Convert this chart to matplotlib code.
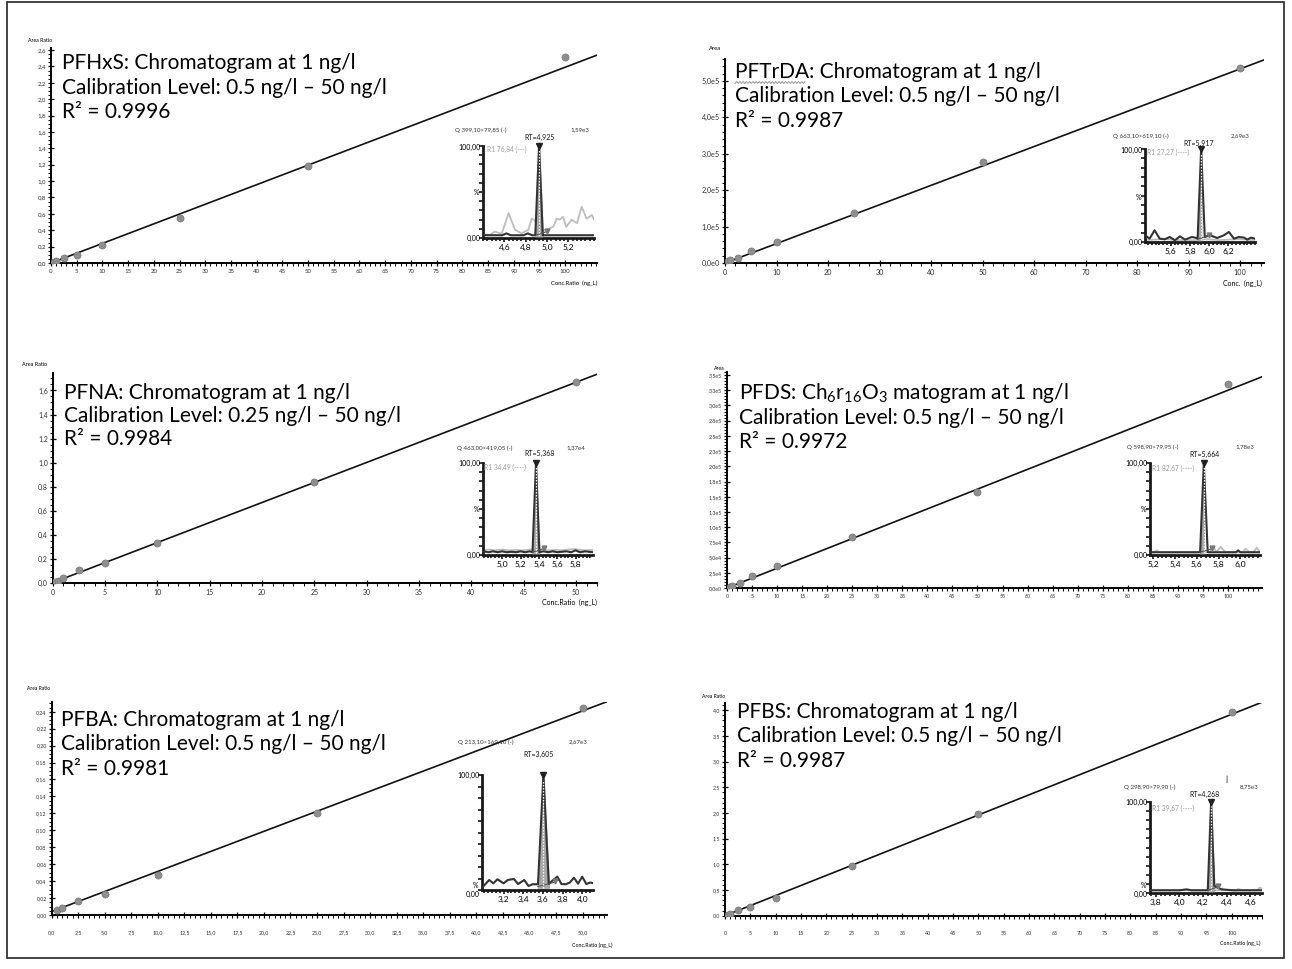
import numpy as np
import matplotlib.pyplot as plt
from matplotlib.ticker import MultipleLocator, FuncFormatter, FixedLocator
from matplotlib.lines import Line2D

plt.rcParams['font.family'] = ['Lato', 'DejaVu Sans']
plt.rcParams['mathtext.fontset'] = 'custom'
plt.rcParams['mathtext.rm'] = 'Lato'
plt.rcParams['mathtext.it'] = 'Lato:italic'
plt.rcParams['mathtext.bf'] = 'Lato:bold'

# ---------- calibration data ----------
conc_pfhxs = [0.5, 1, 2.5, 5, 10, 25, 50, 100]
resp_pfhxs = [0.012, 0.025, 0.06, 0.10, 0.22, 0.55, 1.19, 2.51]
fit_pfhxs = (0.0239, 0.0)          # slope, intercept

conc_pftrda = [0.5, 1, 2.5, 5, 10, 25, 50, 100]
resp_pftrda = [0.05e5, 0.09e5, 0.13e5, 0.33e5, 0.57e5, 1.36e5, 2.76e5, 5.36e5]
fit_pftrda = (5330.0, 0.0)

conc_pfna = [0.25, 0.5, 1, 2.5, 5, 10, 25, 50]
resp_pfna = [0.012, 0.02, 0.04, 0.105, 0.17, 0.33, 0.84, 1.67]
fit_pfna = (0.0333, 0.003)

conc_pfds = [0.5, 1, 2.5, 5, 10, 25, 50, 100]
resp_pfds = [0.01e5, 0.03e5, 0.09e5, 0.2e5, 0.36e5, 0.84e5, 1.57e5, 3.35e5]
fit_pfds = (3250.0, 0.0)

conc_pfba = [0.5, 1, 2.5, 5, 10, 25, 50]
resp_pfba = [0.006, 0.008, 0.016, 0.025, 0.047, 0.12, 0.244]
fit_pfba = (0.00474, 0.004)

conc_pfbs = [0.5, 1, 2.5, 5, 10, 25, 50, 100]
resp_pfbs = [0.02, 0.04, 0.11, 0.17, 0.35, 0.97, 1.98, 3.96]
fit_pfbs = (0.0392, 0.0)

titles = {
    'pfhxs': ['PFHxS: Chromatogram at 1 ng/l', 'Calibration Level: 0.5 ng/l – 50 ng/l', 'R² = 0.9996'],
    'pftrda': ['PFTrDA: Chromatogram at 1 ng/l', 'Calibration Level: 0.5 ng/l – 50 ng/l', 'R² = 0.9987'],
    'pfna': ['PFNA: Chromatogram at 1 ng/l', 'Calibration Level: 0.25 ng/l – 50 ng/l', 'R² = 0.9984'],
    'pfds': ['PFDS: Ch$_6$r$_{16}$O$_3$ matogram at 1 ng/l', 'Calibration Level: 0.5 ng/l – 50 ng/l', 'R² = 0.9972'],
    'pfba': ['PFBA: Chromatogram at 1 ng/l', 'Calibration Level: 0.5 ng/l – 50 ng/l', 'R² = 0.9981'],
    'pfbs': ['PFBS: Chromatogram at 1 ng/l', 'Calibration Level: 0.5 ng/l – 50 ng/l', 'R² = 0.9987'],
}

pftrda_ylabels = ['0,0e0', '1,0e5', '2,0e5', '3,0e5', '4,0e5', '5,0e5']
pfds_ylabels = ['0,0e0', '2,5e4', '5,0e4', '7,5e4', '1,0e5', '1,3e5', '1,5e5', '1,8e5',
                '2,0e5', '2,3e5', '2,5e5', '2,8e5', '3,0e5', '3,3e5', '3,5e5']

# ---------- chromatogram traces (quantifier black, qualifier grey) ----------
t_pfhxs = [4.40, 4.50, 4.58, 4.62, 4.66, 4.72, 4.78, 4.82, 4.86, 4.89, 4.925, 4.96, 5.0, 5.1, 5.2, 5.3, 5.44]
q_pfhxs = [3, 3, 3, 5, 3, 3, 3, 5, 3, 3, 100, 3, 3, 3, 3, 3, 3]
tr_pfhxs = [4.40, 4.466, 4.51, 4.575, 4.64, 4.70, 4.76, 4.825, 4.856, 4.90, 4.93, 4.997, 5.06,
            5.09, 5.12, 5.15, 5.18, 5.23, 5.28, 5.325, 5.37, 5.42, 5.44]
r_pfhxs = [4, 3.6, 7, 4.6, 27, 9, 5, 9, 21, 18, 7, 9, 12.5, 21, 20, 23, 12, 20, 16, 34, 21, 25, 20]

t_pftrda = [5.335, 5.378, 5.43, 5.484, 5.536, 5.589, 5.642, 5.695, 5.748, 5.819, 5.854, 5.88,
            5.917, 5.955, 6.013, 6.084, 6.154, 6.207, 6.26, 6.313, 6.366, 6.40, 6.437, 6.479]
q_pftrda = [7, 3.6, 12.6, 3.6, 2.9, 5.4, 1.8, 6.1, 2.5, 5.4, 4.7, 3.6, 100, 5.4, 7.2, 4.3, 7.2,
            10.8, 3.6, 5.4, 4.7, 2.5, 4.7, 3.6]
tr_pftrda = [5.33, 5.5, 5.7, 5.88, 5.96, 6.1, 6.3, 6.48]
r_pftrda = [2, 3, 2, 2, 3, 2, 3, 2]

t_pfna = [4.79, 4.85, 4.9, 4.95, 5.0, 5.05, 5.1, 5.15, 5.2, 5.25, 5.3, 5.33, 5.368, 5.405,
          5.45, 5.5, 5.55, 5.6, 5.65, 5.7, 5.75, 5.8, 5.85, 5.9, 5.99]
q_pfna = [4, 3, 4, 3, 4, 3, 3.5, 3, 4, 3, 4, 3, 100, 3, 4, 3, 4, 3, 3.5, 4, 3, 5, 3, 4, 3]
tr_pfna = [4.79, 4.85, 4.92, 5.0, 5.08, 5.15, 5.22, 5.3, 5.42, 5.5, 5.58, 5.65, 5.72, 5.8, 5.88, 5.99]
r_pfna = [5, 6, 5, 6, 5, 5.5, 5, 6, 6, 5, 5.5, 5, 6, 6.5, 5, 5.5]

t_pfds = [5.17, 5.3, 5.45, 5.6, 5.63, 5.664, 5.70, 5.75, 5.9, 5.96, 5.98, 6.0, 6.18]
q_pfds = [3, 3, 3, 3, 3, 100, 3, 3, 3, 3, 5, 3, 3]
tr_pfds = [5.17, 5.2, 5.23, 5.26, 5.4, 5.6, 5.72, 5.75, 5.78, 5.82, 5.86, 5.95, 6.02, 6.05,
           6.08, 6.12, 6.15, 6.18]
r_pfds = [3, 3, 5, 3, 3, 3, 3, 9, 3, 9, 3, 3, 3, 7, 3, 3, 8, 3]

t_pfba = [2.99, 3.053, 3.095, 3.137, 3.2, 3.242, 3.305, 3.347, 3.41, 3.453, 3.495, 3.55, 3.605,
          3.66, 3.684, 3.747, 3.789, 3.832, 3.874, 3.916, 3.958, 4.0, 4.042, 4.084, 4.11]
q_pfba = [2.9, 8.7, 5.8, 9.3, 5.8, 8.7, 9.6, 5.2, 8.7, 3.5, 5, 5, 100, 5.2, 7.2, 11.6, 5.2, 5,
          6.5, 10.7, 5.5, 11.6, 5.2, 6.5, 6]

t_pfbs = [3.75, 3.9, 4.0, 4.06, 4.1, 4.2, 4.24, 4.268, 4.295, 4.32, 4.36, 4.45, 4.55, 4.62, 4.70]
q_pfbs = [3, 3, 3, 4, 3, 3, 3, 100, 8, 6, 4, 3, 3, 3, 3]
tr_pfbs = [3.75, 4.4, 4.48, 4.5, 4.53, 4.6, 4.66, 4.68, 4.70]
r_pfbs = [3, 3, 3, 4.5, 3, 3, 3, 6, 5]

W, H = 1292, 969
fig = plt.figure(figsize=(W / 100, H / 100), dpi=100)


def fx(x):
    return x / W


def fy(y):
    return 1 - y / H


def box(x0, x1, ytop, ybot):
    return [x0 / W, 1 - ybot / H, (x1 - x0) / W, (ybot - ytop) / H]


def comma(dec):
    return FuncFormatter(lambda v, p: f'{v:.{dec}f}'.replace('.', ','))


def calib(rect, conc, resp, fit, xlim, ylim, xmaj, xmin, ymaj, ymin,
          xdec, ydec, xlast, fs=4.4, xpad=2.5, ylabels=None):
    ax = fig.add_axes(rect)
    ax.set_xlim(*xlim)
    ax.set_ylim(*ylim)
    for s in ('top', 'right'):
        ax.spines[s].set_visible(False)
    for s in ('left', 'bottom'):
        ax.spines[s].set_linewidth(1.4)
    ax.xaxis.set_major_locator(FixedLocator(np.arange(0, xlast + xmaj / 2, xmaj)))
    ax.xaxis.set_minor_locator(MultipleLocator(xmin))
    ax.xaxis.set_major_formatter(comma(xdec))
    if ylabels is None:
        ax.yaxis.set_major_locator(MultipleLocator(ymaj))
        ax.yaxis.set_major_formatter(comma(ydec))
    else:
        ax.yaxis.set_major_locator(FixedLocator([i * ymaj for i in range(len(ylabels))]))
        ax.set_yticklabels(ylabels)
    ax.yaxis.set_minor_locator(MultipleLocator(ymin))
    ax.tick_params(which='major', direction='inout', length=4, width=0.9,
                   labelsize=fs, pad=1.5, labelcolor='#333333')
    ax.tick_params(axis='x', which='major', pad=xpad)
    ax.tick_params(which='minor', direction='out', length=2, width=0.7)
    xs = np.array([0, xlim[1]])
    ax.plot(xs, fit[0] * xs + fit[1], color='#111111', lw=1.2, zorder=2)
    ax.scatter(conc, resp, s=26, marker='o', color='#8e8e8e', edgecolor='#777777', lw=0.5, zorder=3)
    ax.patch.set_alpha(0)
    return ax


def heading(x, y0, lines, step=24.5, size=15):
    for i, s in enumerate(lines):
        fig.text(fx(x), fy(y0 + i * step), s, fontsize=size, va='center', ha='left')


def chrom(rect, xlim, xticks, t, q, rt, tr=None, r=None, fill_w=0.035):
    ax = fig.add_axes(rect)
    ax.set_xlim(*xlim)
    ax.set_ylim(0, 100)
    for s in ('top', 'right'):
        ax.spines[s].set_visible(False)
    for s in ('left', 'bottom'):
        ax.spines[s].set_linewidth(2.0)
        ax.spines[s].set_color('#1a1a1a')
    ax.set_yticks(np.arange(0, 101, 10))
    ax.set_yticklabels([])
    ax.set_xticks(xticks)
    ax.xaxis.set_major_formatter(comma(1))
    ax.xaxis.set_minor_locator(MultipleLocator(0.04))
    ax.tick_params(which='both', direction='out', length=3, width=1.1, labelsize=6, pad=1.5)
    ax.tick_params(which='minor', length=2.5)
    if tr is not None:
        ax.plot(tr, r, color='#bdbdbd', lw=1.3, zorder=2)
    t = np.array(t)
    q = np.array(q)
    m = (t >= rt - fill_w) & (t <= rt + fill_w)
    ax.fill_between(t[m], q[m], 2, color='#a8a8a8', zorder=3)
    ax.plot(t, q, color='#333333', lw=1.5, zorder=4)
    ax.vlines(rt, 2, 96, colors='white', linestyles=(0, (1.2, 1.2)), lw=0.9, zorder=5)
    ax.plot([rt - fill_w, rt + fill_w * 2.2], [3, 7], color='#555555', lw=0.8, zorder=4)
    ax.plot(rt + fill_w * 2.2, 8, marker='v', ms=3.5, color='#777777', zorder=6, clip_on=False)
    ax.plot(rt, 100, marker='v', ms=4.5, color='#222222', zorder=6, clip_on=False)
    ax.patch.set_alpha(0)
    return ax


def chrom_text(x_q, x_int, x_rt, y_top, y_rt, q_s, int_s, rt_s, y100, ypct, y0, xaxis,
               r1=None, x_r1=None, y_r1=None):
    fig.text(fx(x_q), fy(y_top), q_s, fontsize=4.4, va='center', ha='left', color='#333333')
    fig.text(fx(x_int), fy(y_top), int_s, fontsize=4.4, va='center', ha='center', color='#333333')
    fig.text(fx(x_rt), fy(y_rt), rt_s, fontsize=5, va='center', ha='center', color='#111111')
    fig.text(fx(xaxis - 2), fy(y100), '100,00', fontsize=5, va='center', ha='right')
    fig.text(fx(xaxis - 4), fy(ypct), '%', fontsize=5, va='center', ha='right')
    fig.text(fx(xaxis - 2), fy(y0), '0,00', fontsize=5, va='center', ha='right')
    if r1 is not None:
        fig.text(fx(x_r1), fy(y_r1), r1, fontsize=4.8, va='center', ha='left', color='#9a9a9a')


# ---------- PFHxS ----------
calib(box(51, 597, 48, 263), conc_pfhxs, resp_pfhxs, fit_pfhxs, (0, 106.2), (0, 2.625),
      5, 1, 0.2, 0.05, 0, 1, 100)
fig.text(fx(40), fy(40), 'Area Ratio', fontsize=3.8, ha='center', va='center')
fig.text(fx(597), fy(283), 'Conc.Ratio  (ng_L)', fontsize=4.2, ha='right', va='center')
heading(62, 63, titles['pfhxs'])
chrom(box(483, 594, 146, 238), (4.40, 5.44), [4.6, 4.8, 5.0, 5.2], t_pfhxs, q_pfhxs, 4.925,
      tr_pfhxs, r_pfhxs, fill_w=0.035)
chrom_text(455, 580, 540, 130, 137.5, 'Q 399,10>79,85 (-)', '1,59e3', 'RT=4,925',
           147, 192, 238, 483, 'R1 76,84 (---)', 487, 149)

# ---------- PFTrDA ----------
calib(box(725, 1264, 59, 263), conc_pftrda, resp_pftrda, fit_pftrda, (0, 104.6), (0, 5.6e5),
      10, 2, 1e5, 0.2e5, 0, 0, 100, fs=5.2, ylabels=pftrda_ylabels)
fig.text(fx(715), fy(49), 'Area', fontsize=4.2, ha='center', va='center')
fig.text(fx(1262), fy(283), 'Conc.  (ng_L)', fontsize=5, ha='right', va='center')
heading(735, 72, titles['pftrda'])
zx = np.linspace(735, 805, 44)
zy = 82.5 + 1.0 * (-1) ** np.arange(44)
fig.add_artist(Line2D(fx(zx), fy(zy), color='#8a8a8a', lw=0.6, transform=fig.transFigure))
chrom(box(1145, 1255, 149, 242), (5.33, 6.48), [5.6, 5.8, 6.0, 6.2], t_pftrda, q_pftrda, 5.917,
      tr_pftrda, r_pftrda, fill_w=0.037)
chrom_text(1113, 1240, 1199, 136, 143, 'Q 663,10>619,10 (-)', '2,69e3', 'RT=5,917',
           150, 198, 242, 1145, 'R1 27,27 (----)', 1147, 152)

# ---------- PFNA ----------
calib(box(52.7, 597, 373, 583), conc_pfna, resp_pfna, fit_pfna, (0, 52), (0, 1.745),
      5, 1, 0.2, 0.05, 0, 1, 50, fs=5)
fig.text(fx(35), fy(364), 'Area Ratio', fontsize=4, ha='center', va='center')
fig.text(fx(597), fy(602), 'Conc.Ratio  (ng_L)', fontsize=5, ha='right', va='center')
heading(64, 393, titles['pfna'], step=23)
chrom(box(483, 593, 463, 555), (4.79, 5.99), [5.0, 5.2, 5.4, 5.6, 5.8], t_pfna, q_pfna, 5.368,
      tr_pfna, r_pfna, fill_w=0.038)
chrom_text(457, 576, 540, 448, 453, 'Q 463,00>419,05 (-)', '1,37e4', 'RT=5,368',
           463, 509, 555, 483, 'R1 34,49 (----)', 484, 467)

# ---------- PFDS ----------
calib(box(727, 1262, 372, 588), conc_pfds, resp_pfds, fit_pfds, (0, 106.8), (0, 3.55e5),
      5, 1, 0.25e5, 0.05e5, 0, 0, 100, fs=3.8, ylabels=pfds_ylabels)
fig.text(fx(719), fy(368), 'Area', fontsize=3.8, ha='center', va='center')
heading(739, 393, titles['pfds'])
chrom(box(1150, 1260, 463, 555), (5.17, 6.18), [5.2, 5.4, 5.6, 5.8, 6.0], t_pfds, q_pfds, 5.664,
      tr_pfds, r_pfds, fill_w=0.036)
chrom_text(1127, 1245, 1205, 447, 454, 'Q 598,90>79,95 (-)', '1,78e3', 'RT=5,664',
           463, 510, 555, 1150, 'R1 82,67 (----)', 1152, 468)

# ---------- PFBA ----------
calib(box(51.5, 607, 702, 915), conc_pfba, resp_pfba, fit_pfba, (0, 52.3), (0, 0.2515),
      2.5, 0.5, 0.02, 0.005, 1, 2, 50, fs=3.8, xpad=9)
fig.text(fx(39), fy(689), 'Area Ratio', fontsize=3.6, ha='center', va='center')
fig.text(fx(612), fy(945), 'Conc.Ratio (ng_L)', fontsize=3.8, ha='right', va='center')
heading(61, 720, titles['pfba'])
chrom(box(482, 593, 775, 890), (2.98, 4.11), [3.2, 3.4, 3.6, 3.8, 4.0], t_pfba, q_pfba, 3.605,
      fill_w=0.056)
chrom_text(458, 578, 539, 742, 754, 'Q 213,10>169,10 (-)', '2,67e3', 'RT=3,605',
           775, 885, 894, 482)

# ---------- PFBS ----------
calib(box(725, 1262, 703, 915.7), conc_pfbs, resp_pfbs, fit_pfbs, (0, 106), (0, 4.14),
      5, 1, 0.5, 0.1, 0, 1, 100, fs=3.8, xpad=9)
fig.text(fx(714), fy(697), 'Area Ratio', fontsize=3.6, ha='center', va='center')
fig.text(fx(1260), fy(943), 'Conc.Ratio (ng_L)', fontsize=3.8, ha='right', va='center')
heading(737, 712, titles['pfbs'])
chrom(box(1150, 1262, 802, 893), (3.75, 4.70), [3.8, 4.0, 4.2, 4.4, 4.6], t_pfbs, q_pfbs, 4.268,
      tr_pfbs, r_pfbs, fill_w=0.028)
chrom_text(1124, 1249, 1205, 787, 794, 'Q 298,90>79,90 (-)', '8,75e3', 'RT=4,268',
           802, 886, 894, 1150, 'R1 39,67 (----)', 1152, 808)
fig.text(fx(1226), fy(779), '|', fontsize=6, ha='center', va='center')

# frame round the whole figure
fig.add_artist(plt.Rectangle((fx(7), fy(958)), (1284 - 7) / W, (958 - 2) / H, fill=False,
                             lw=1.2, color='#222222', transform=fig.transFigure))

fig.savefig('out.png', dpi=100)
